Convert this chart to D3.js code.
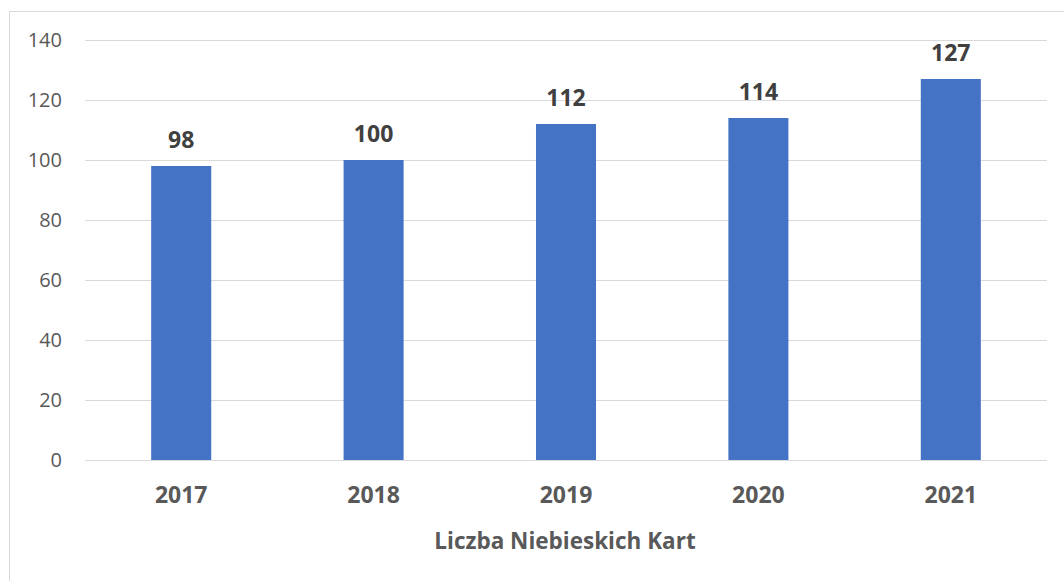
<!DOCTYPE html>
<html>
<head>
<meta charset="utf-8">
<script src="https://cdn.jsdelivr.net/npm/d3@7"></script>
<style>
  body { margin: 0; background: #fff; }
  text { font-family: "Open Sans", "Noto Sans", sans-serif; }
</style>
</head>
<body>
<svg id="chart" width="1064" height="581"></svg>
<script>
var years = ["2017", "2018", "2019", "2020", "2021"];
var cards = [98, 100, 112, 114, 127];
var yTicks = [0, 20, 40, 60, 80, 100, 120, 140];
var axisTitle = "Liczba Niebieskich Kart";

var svg = d3.select("#chart");

// outer frame
svg.append("rect")
  .attr("x", 9.5).attr("y", 11.5)
  .attr("width", 1070).attr("height", 600)
  .attr("fill", "none").attr("stroke", "#d9d9d9").attr("stroke-width", 1);

var plotLeft = 85, plotRight = 1047, plotTop = 40, plotBottom = 460;

var x = d3.scaleBand().domain(years).range([plotLeft, plotRight]).paddingInner(0.688).paddingOuter(0.344);
var y = d3.scaleLinear().domain([0, 140]).range([plotBottom, plotTop]);

// gridlines
svg.append("g").selectAll("line").data(yTicks).join("line")
  .attr("x1", plotLeft).attr("x2", plotRight)
  .attr("y1", function(d){ return y(d) + 0.5; })
  .attr("y2", function(d){ return y(d) + 0.5; })
  .attr("stroke", "#d9d9d9").attr("stroke-width", 1);

// y axis labels
var yAxis = d3.axisLeft(y).tickValues(yTicks).tickSize(0).tickPadding(0);
var gy = svg.append("g").attr("transform", "translate(62,0)").call(yAxis);
gy.select(".domain").remove();
gy.selectAll("text")
  .attr("font-size", 20).attr("fill", "#595959")
  .style("font-family", "'Open Sans', sans-serif");

// bars
svg.append("g").selectAll("rect").data(cards).join("rect")
  .attr("x", function(d, i){ return x(years[i]); })
  .attr("y", function(d){ return y(d); })
  .attr("width", x.bandwidth())
  .attr("height", function(d){ return y(0) - y(d); })
  .attr("fill", "#4472c4");

// value labels
svg.append("g").selectAll("text").data(cards).join("text")
  .attr("x", function(d, i){ return x(years[i]) + x.bandwidth() / 2; })
  .attr("y", function(d){ return y(d) - 18; })
  .attr("text-anchor", "middle")
  .attr("font-size", 23).attr("font-weight", "bold").attr("fill", "#404040")
  .text(function(d){ return d; });

// x axis labels
var xAxis = d3.axisBottom(x).tickSize(0).tickPadding(0);
var gx = svg.append("g").attr("transform", "translate(0,487)").call(xAxis);
gx.select(".domain").remove();
gx.selectAll("text")
  .attr("font-size", 23).attr("font-weight", "bold").attr("fill", "#595959")
  .style("font-family", "'Open Sans', sans-serif");

// axis title
svg.append("text")
  .attr("x", (plotLeft + plotRight) / 2 - 1).attr("y", 549)
  .attr("text-anchor", "middle")
  .attr("font-size", 22.5).attr("font-weight", "bold").attr("fill", "#595959")
  .text(axisTitle);
</script>
</body>
</html>
